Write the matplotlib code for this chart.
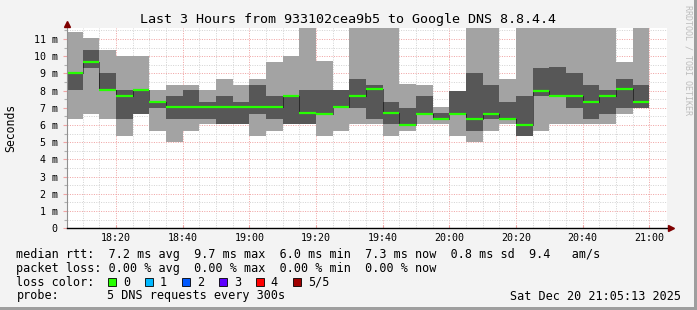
import matplotlib
matplotlib.use("Agg")
import matplotlib.pyplot as plt
from matplotlib.patches import Rectangle
import numpy as np

plt.rcParams['font.family'] = ['DejaVu Sans Mono', 'DejaVu Sans']

# ---------------- data ----------------
bin_starts = ["18:05", "18:10", "18:15", "18:20", "18:25", "18:30", "18:35", "18:40",
              "18:45", "18:50", "18:55", "19:00", "19:05", "19:10", "19:15", "19:20",
              "19:25", "19:30", "19:35", "19:40", "19:45", "19:50", "19:55", "20:00",
              "20:05", "20:10", "20:15", "20:20", "20:25", "20:30", "20:35", "20:40",
              "20:45", "20:50", "20:55"]
ping_min = [6.36, 6.65, 6.36, 5.37, 6.65, 5.68, 5.04, 5.68, 6.05, 6.05, 6.05, 5.37,
            5.68, 6.05, 6.05, 5.37, 5.68, 6.05, 6.05, 5.37, 5.68, 6.05, 6.05, 5.37,
            5.04, 5.68, 6.05, 5.37, 5.68, 6.05, 6.05, 6.05, 6.05, 6.65, 7.01]
ping_lo = [8.04, 9.34, 8.04, 6.36, 6.65, 7.01, 6.36, 6.36, 6.36, 6.05, 6.05, 6.65,
           6.36, 6.05, 6.05, 6.65, 7.03, 7.01, 6.36, 6.05, 6.00, 6.67, 6.36, 6.67,
           5.68, 6.36, 6.30, 5.37, 7.69, 7.69, 7.01, 6.36, 6.65, 7.01, 7.01]
ping_median = [9.05, 9.69, 8.04, 7.71, 8.04, 7.36, 7.03, 7.03, 7.03, 7.03, 7.03, 7.03,
               7.03, 7.71, 6.72, 6.67, 7.03, 7.71, 8.08, 6.72, 6.00, 6.67, 6.36, 6.67,
               6.36, 6.67, 6.36, 6.00, 8.00, 7.71, 7.71, 7.36, 7.71, 8.08, 7.36]
ping_hi = [9.05, 10.37, 9.05, 8.04, 8.04, 7.36, 7.69, 8.04, 7.36, 7.69, 7.36, 8.33,
           7.69, 7.71, 8.04, 8.04, 8.04, 8.68, 8.33, 7.36, 7.01, 7.69, 6.69, 7.98,
           9.01, 8.33, 7.36, 7.69, 9.34, 9.40, 9.05, 8.33, 8.04, 8.68, 8.33]
ping_max = [11.38, 11.03, 10.37, 10.02, 10.02, 8.04, 8.33, 8.33, 8.04, 8.68, 8.33, 8.68,
            9.69, 10.02, 12.0, 9.73, 8.04, 12.0, 12.0, 12.0, 8.39, 8.33, 7.03, 7.98,
            12.0, 12.0, 8.68, 12.0, 12.0, 12.0, 12.0, 12.0, 12.0, 9.69, 12.0]

tick_labels = ["18:20", "18:40", "19:00", "19:20", "19:40", "20:00", "20:20", "20:40", "21:00"]
y_ticks = [0, 1, 2, 3, 4, 5, 6, 7, 8, 9, 10, 11]

title = "Last 3 Hours from 933102cea9b5 to Google DNS 8.8.4.4"
row_rtt = "median rtt:  7.2 ms avg  9.7 ms max  6.0 ms min  7.3 ms now  0.8 ms sd  9.4   am/s"
row_loss = "packet loss: 0.00 % avg  0.00 % max  0.00 % min  0.00 % now"
loss_labels = ["0", "1", "2", "3", "4", "5/5"]
loss_colors = ["#26ff00", "#00b8ff", "#0059ff", "#5e00ff", "#ff0000", "#a00000"]
probe_text = "5 DNS requests every 300s"
stamp = "Sat Dec 20 21:05:13 2025"

STEP = 5.0


def to_min(s):
    h, m = s.split(":")
    return (int(h) - 18) * 60 + int(m)


x = np.array([to_min(s) for s in bin_starts], dtype=float)
t_start = 5 + 13 / 60.0
t_end = t_start + 180

W, H = 697, 310
fig = plt.figure(figsize=(W / 100, H / 100), dpi=100, facecolor="#f3f3f3")
L, R, T, B = 66.7, 666.7, 28.3, 228.3
ax = fig.add_axes([L / W, (H - B) / H, (R - L) / W, (B - T) / H])
ax.set_facecolor("white")
ax.set_xlim(t_start, t_end)
ax.set_ylim(0, (B - T) / 17.21)

# grid (behind data)
mgrid = "#f0a4a4"
grid = "#d4d4d4"
dots = (0, (1, 1.4))
for v in np.arange(10, 185, 5):
    if v % 20 != 0:
        ax.axvline(v, color=grid, lw=0.72, ls=dots, zorder=1)
for v in np.arange(20, 185, 20):
    ax.axvline(v, color=mgrid, lw=0.72, ls=dots, zorder=1)
for v in np.arange(0.5, 11.7, 1.0):
    ax.axhline(v, color=grid, lw=0.72, ls=dots, zorder=1)
for v in y_ticks[1:]:
    ax.axhline(v, color=mgrid, lw=0.72, ls=dots, zorder=1)

# smoke
pmin = np.array(ping_min); pmax = np.array(ping_max)
plo = np.array(ping_lo); phi = np.array(ping_hi)
med = np.array(ping_median)
ax.bar(x, pmax - pmin, bottom=pmin, width=STEP, align="edge", color="#a3a3a3",
       lw=0, antialiased=False, zorder=2)
ax.bar(x, phi - plo, bottom=plo, width=STEP, align="edge", color="#575757",
       lw=0, antialiased=False, zorder=2.5)

# median line
xs = np.append(x, x[-1] + STEP)
ax.step(xs, np.append(med, med[-1]), where="post", color="black", lw=0.72,
        ls=(0, (1, 1)), zorder=3)
ax.hlines(med, x, x + STEP, colors=loss_colors[0], lw=1.6, zorder=4)

# axes
for s in ["top", "right"]:
    ax.spines[s].set_visible(False)
ax.spines["bottom"].set_color("black")
ax.spines["bottom"].set_linewidth(1.0)
ax.spines["left"].set_color("#909090")
ax.spines["left"].set_linewidth(0.8)
ax.spines["bottom"].set_zorder(5)
ax.spines["left"].set_zorder(5)

ax.set_yticks(y_ticks)
ax.set_yticklabels(["0"] + [f"{v} m" for v in y_ticks[1:]])
ax.set_yticks(np.arange(0.5, 11.7, 1.0), minor=True)
ax.tick_params(axis="y", which="major", direction="out", length=3, width=0.8,
               color=mgrid, labelsize=7.2, pad=3.5)
ax.tick_params(axis="y", which="minor", direction="out", length=2, width=0.8,
               color="#b0b0b0")
ax.set_xticks([to_min(s) for s in tick_labels])
ax.set_xticklabels(tick_labels)
ax.tick_params(axis="x", which="major", direction="in", length=2, width=0.8,
               color=mgrid, labelsize=7.2, pad=3.5)

# y-axis title
fig.text(10.5 / W, 1 - (T + B) / 2 / H, "Seconds", rotation=90, ha="center",
         va="center", fontsize=8.3)

# arrows
ax.plot([0], [1 + 4.0 / (B - T)], marker="^", color="#7f0000", ms=4.5,
        transform=ax.transAxes, clip_on=False, zorder=6)
ax.plot([1 + 4.0 / (R - L)], [0], marker=">", color="#7f0000", ms=4.5,
        transform=ax.transAxes, clip_on=False, zorder=6)

# title and side text
fig.text(0.5, 1 - 19.5 / H, title, ha="center", va="center", fontsize=9.6)
fig.text(688 / W, 1 - 5 / H, "RRDTOOL / TOBI OETIKER", rotation=270, ha="center",
         va="top", fontsize=6, color="#bdbdbd")

# legend rows
lx = 16.4 / W
fig.text(lx, 1 - 254.5 / H, row_rtt, va="center", fontsize=8.5)
fig.text(lx, 1 - 268.5 / H, row_loss, va="center", fontsize=8.5)
fig.text(lx, 1 - 282.3 / H, "loss color:", va="center", fontsize=8.5)
for i, (lab, col) in enumerate(zip(loss_labels, loss_colors)):
    bx = 108.3 + i * 37.0
    fig.add_artist(Rectangle((bx / W, 1 - 286.2 / H), 7.6 / W, 7.8 / H,
                             transform=fig.transFigure, facecolor=col,
                             edgecolor="black", lw=0.6))
    fig.text((bx + 14.5) / W, 1 - 282.3 / H, lab, va="center", fontsize=8.5)
fig.text(lx, 1 - 296 / H, "probe:", va="center", fontsize=8.5)
fig.text(107.0 / W, 1 - 296 / H, probe_text, va="center", fontsize=8.5)
fig.text(680.5 / W, 1 - 296 / H, stamp, va="center", ha="right", fontsize=8.5)

# frame shading
fig.add_artist(Rectangle((694 / W, 0), 3 / W, 1, transform=fig.transFigure,
                         facecolor="#9e9e9e", lw=0))
fig.add_artist(Rectangle((0, 0), 1, 3 / H, transform=fig.transFigure,
                         facecolor="#9e9e9e", lw=0))

fig.savefig("out.png", dpi=100, facecolor=fig.get_facecolor())
